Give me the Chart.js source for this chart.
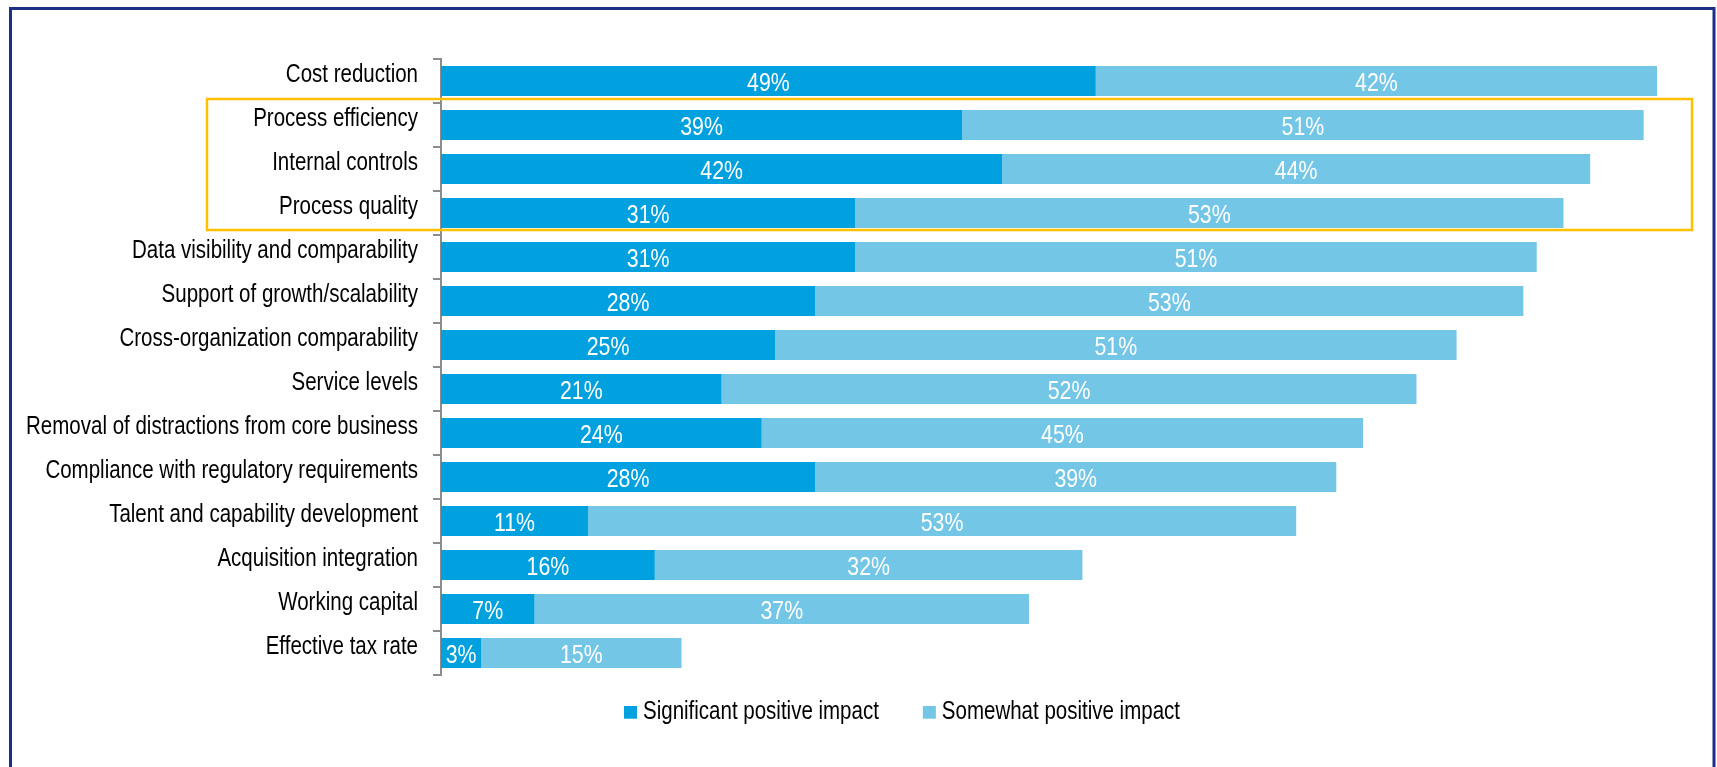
<!DOCTYPE html>
<html>
<head>
<meta charset="utf-8">
<title>Impact by area</title>
<script src="https://cdn.jsdelivr.net/npm/chart.js@4"></script>
<style>
  html, body { margin: 0; padding: 0; background: #fff; }
  #wrap { width: 1717px; height: 767px; }
</style>
</head>
<body>
<div id="wrap"><canvas id="impactChart" width="1717" height="767"></canvas></div>
<script>
const categories = [
  "Cost reduction",
  "Process efficiency",
  "Internal controls",
  "Process quality",
  "Data visibility and comparability",
  "Support of growth/scalability",
  "Cross-organization comparability",
  "Service levels",
  "Removal of distractions from core business",
  "Compliance with regulatory requirements",
  "Talent and capability development",
  "Acquisition integration",
  "Working capital",
  "Effective tax rate",
];
const significant = [49, 39, 42, 31, 31, 28, 25, 21, 24, 28, 11, 16, 7, 3];
const somewhat = [42, 51, 44, 53, 51, 53, 51, 52, 45, 39, 53, 32, 37, 15];
const seriesNames = ["Significant positive impact", "Somewhat positive impact"];
const seriesColors = ["#00a1de", "#74c6e6"];
// rows framed in yellow (first and last)
const framedRows = ["Process efficiency", "Process quality"];

const FONT = '"Liberation Sans", Arial, sans-serif';
const NARROW = 0.82; // squeeze text to an Arial Narrow look

function narrowText(ctx, text, x, y, align) {
  const w = ctx.measureText(text).width * NARROW;
  let left = x;
  if (align === "center") left = x - w / 2;
  else if (align === "right") left = x - w;
  ctx.save();
  ctx.translate(left, y);
  ctx.scale(NARROW, 1);
  ctx.textAlign = "left";
  ctx.fillText(text, 0, 0);
  ctx.restore();
  return w;
}

// category names left of the axis
const categoryLabels = {
  id: "categoryLabels",
  afterDraw(chart) {
    const ctx = chart.ctx;
    const y = chart.scales.y;
    ctx.save();
    ctx.fillStyle = "#000";
    ctx.font = "25px " + FONT;
    ctx.textBaseline = "alphabetic";
    categories.forEach((name, i) => {
      narrowText(ctx, name, y.right - 23, y.getPixelForValue(i) + 1, "right");
    });
    ctx.restore();
  },
};

// white % labels centred in each segment
const barLabels = {
  id: "barLabels",
  afterDatasetsDraw(chart) {
    const ctx = chart.ctx;
    ctx.save();
    ctx.fillStyle = "#fff";
    ctx.font = "26px " + FONT;
    ctx.textBaseline = "alphabetic";
    chart.data.datasets.forEach((ds, i) => {
      chart.getDatasetMeta(i).data.forEach((bar, j) => {
        const p = bar.getProps(["x", "y", "base"], true);
        narrowText(ctx, ds.data[j] + "%", (p.x + p.base) / 2, p.y + 10, "center");
      });
    });
    ctx.restore();
  },
};

// legend row under the bars
const legendRow = {
  id: "legendRow",
  afterDraw(chart) {
    const ctx = chart.ctx;
    const ds = chart.data.datasets;
    const box = 13, gapText = 6, gapItem = 44;
    ctx.save();
    ctx.font = "25px " + FONT;
    ctx.textBaseline = "alphabetic";
    const widths = ds.map(d => ctx.measureText(d.label).width * NARROW);
    const total = widths.reduce((a, w) => a + box + gapText + w, 0) + gapItem * (ds.length - 1);
    let x = 902 - total / 2;
    const baseline = chart.chartArea.bottom + 44;
    ds.forEach((d, i) => {
      ctx.fillStyle = d.backgroundColor;
      ctx.fillRect(x, baseline - 13, box, 12.7);
      ctx.fillStyle = "#000";
      narrowText(ctx, d.label, x + box + gapText, baseline, "left");
      x += box + gapText + widths[i] + gapItem;
    });
    ctx.restore();
  },
};

// navy outer frame + yellow highlight box
const frames = {
  id: "frames",
  afterDraw(chart) {
    const ctx = chart.ctx;
    const y = chart.scales.y;
    ctx.save();
    ctx.strokeStyle = "#1c2e85";
    ctx.lineWidth = 3;
    ctx.strokeRect(10.5, 8.5, 1703.5, 800);

    const half = (y.getPixelForValue(1) - y.getPixelForValue(0)) / 2;
    const top = y.getPixelForValue(categories.indexOf(framedRows[0])) - half - 4;
    const bottom = y.getPixelForValue(categories.indexOf(framedRows[1])) + half - 5;
    ctx.strokeStyle = "#ffc000";
    ctx.lineWidth = 2.5;
    ctx.strokeRect(207, top, 1692 - 207, bottom - top);
    ctx.restore();
  },
};

new Chart(document.getElementById("impactChart"), {
  type: "bar",
  data: {
    labels: categories,
    datasets: [
      {
        label: seriesNames[0],
        data: significant,
        backgroundColor: seriesColors[0],
        borderWidth: 0,
      },
      {
        label: seriesNames[1],
        data: somewhat,
        backgroundColor: seriesColors[1],
        borderWidth: 0,
      },
    ],
  },
  options: {
    indexAxis: "y",
    responsive: false,
    animation: false,
    devicePixelRatio: 1,
    barPercentage: 0.68,
    categoryPercentage: 1,
    layout: {
      padding: { top: 59, right: 60, bottom: 92, left: 0 },
    },
    scales: {
      x: {
        stacked: true,
        display: false,
        min: 0,
        max: 91,
      },
      y: {
        stacked: true,
        afterFit(scale) {
          scale.width = 441;
        },
        grid: {
          offset: true,
          drawOnChartArea: false,
          tickLength: 8,
          color: "#8c8c8c",
          lineWidth: 2,
        },
        border: {
          color: "#8c8c8c",
          width: 2,
        },
        ticks: { display: false },
      },
    },
    plugins: {
      legend: { display: false },
      tooltip: { enabled: false },
    },
  },
  plugins: [barLabels, categoryLabels, legendRow, frames],
});
</script>
</body>
</html>
